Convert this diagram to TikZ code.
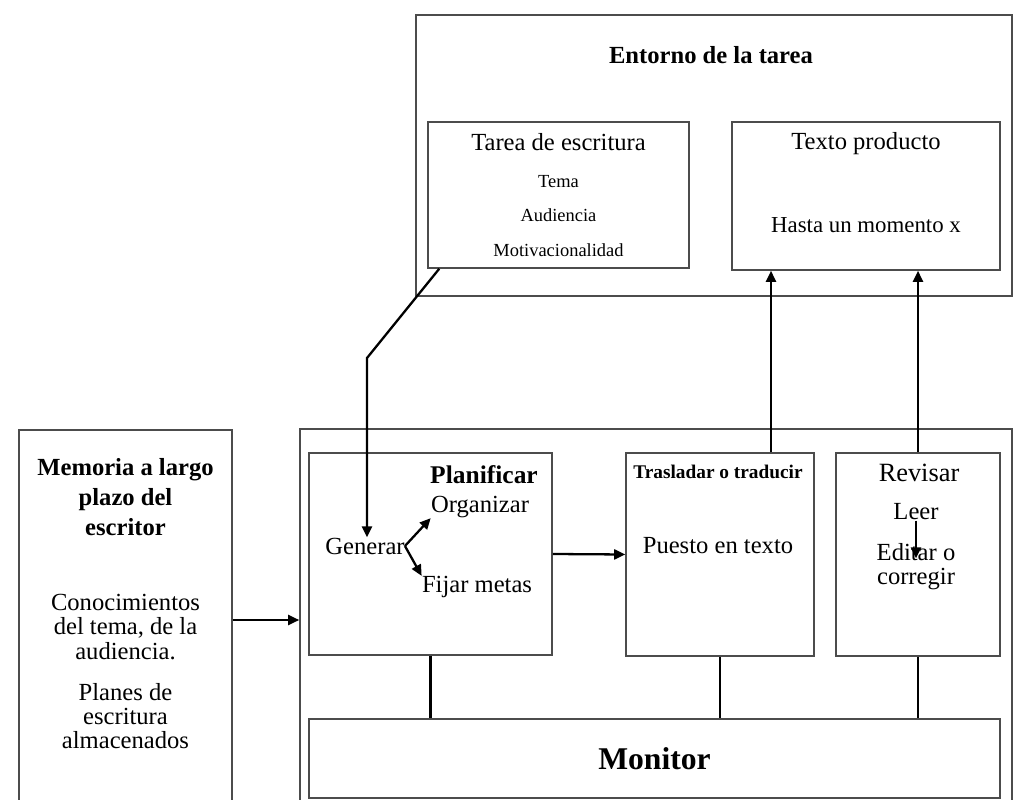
\documentclass[tikz,border=0pt]{standalone}
\usepackage{fontspec}
\setmainfont{Liberation Serif}
\usetikzlibrary{arrows.meta,positioning,calc}

\begin{document}
\begin{tikzpicture}[
  % Box styles
  caja/.style={
    rectangle,
    draw=black!70,
    line width=0.9pt,
    inner sep=0pt
  },
  etiqueta/.style={inner sep=0pt, align=center, font=\fontsize{14}{17}\selectfont},
  titulo/.style={etiqueta, font=\fontsize{14}{17}\selectfont\bfseries},
  menor/.style={etiqueta, font=\fontsize{10.5}{12}\selectfont},
  apretado/.style={etiqueta, font=\fontsize{14}{13.7}\selectfont},
  % Arrow styles
  arrow/.style={
    -{Triangle[length=2.2mm,width=2mm]},
    line width=1.3pt,
    draw=black
  },
  enlace/.style={line width=1.3pt, draw=black}
]

\useasboundingbox (0,0) rectangle (20.26,-16);
\clip (0,0) rectangle (20.26,-16);

% === ENTORNO DE LA TAREA ===
\node[caja, minimum width=11.92cm, minimum height=5.62cm] (entorno) at (14.28,-3.11) {};
\node[titulo] (entornotit) at (14.22,-1.10) {Entorno de la tarea};

\node[caja, minimum width=5.22cm, minimum height=2.92cm] (tarea) at (11.17,-3.90) {};
\node[etiqueta] (tareatit) at (11.17,-2.84) {Tarea de escritura};
\node[menor] (tema) at (11.17,-3.64) {Tema};
\node[menor] (audiencia) at (11.17,-4.30) {Audiencia};
\node[menor] (motiv) at (11.17,-5.00) {Motivacionalidad};

\node[caja, minimum width=5.36cm, minimum height=2.96cm] (producto) at (17.32,-3.92) {};
\node[etiqueta] (productotit) at (17.32,-2.88) {Texto producto};
\node[etiqueta, font=\fontsize{13}{16}\selectfont] (momento) at (17.32,-4.50) {Hasta un momento x};

% === MEMORIA ===
\node[caja, minimum width=4.26cm, minimum height=7.6cm] (memoria) at (2.51,-12.4) {};
\node[titulo] (memoriatit) at (2.51,-9.94) {Memoria a largo\\plazo del\\escritor};
\node[apretado] (conoc) at (2.51,-12.54) {Conocimientos\\del tema, de la\\audiencia.};
\node[apretado] (planes) at (2.51,-14.32) {Planes de\\escritura\\almacenados};

% === PROCESO ===
\node[caja, minimum width=14.24cm, minimum height=7.62cm] (proceso) at (13.12,-12.39) {};

\node[caja, minimum width=4.86cm, minimum height=4.04cm] (planificar) at (8.61,-11.08) {};
\node[titulo, font=\fontsize{14.5}{17}\selectfont\bfseries] (planificartit) at (9.68,-9.50) {Planificar};
\node[etiqueta] (organizar) at (9.60,-10.14) {Organizar};
\node[etiqueta] (generar) at (7.30,-10.92) {Generar};
\node[etiqueta] (fijar) at (9.54,-11.74) {Fijar metas};

\node[caja, minimum width=3.76cm, minimum height=4.06cm] (trasladar) at (14.40,-11.09) {};
\node[titulo, font=\fontsize{11}{13}\selectfont\bfseries] (trasladartit) at (14.36,-9.44) {Trasladar o traducir};
\node[etiqueta] (puesto) at (14.36,-10.92) {Puesto en texto};

\node[caja, minimum width=3.28cm, minimum height=4.06cm] (revisar) at (18.36,-11.09) {};
\node[etiqueta, font=\fontsize{15}{18}\selectfont] (revisartit) at (18.38,-9.46) {Revisar};
\node[etiqueta] (leer) at (18.32,-10.24) {Leer};
\node[apretado] (editar) at (18.32,-11.34) {Editar o\\corregir};

\node[caja, minimum width=13.82cm, minimum height=1.58cm, font=\fontsize{18}{21}\selectfont\bfseries] (monitor) at (13.09,-15.17) {Monitor};

% === ARROWS ===
\coordinate (codo) at (7.34,-7.16);
\draw[arrow] ([xshift=0.24cm]tarea.south west) -- (codo) -- (codo |- generar.north);
\draw[arrow] (generar.east) -- (organizar.south west);
\draw[arrow] (generar.east) -- (fijar.north west);
\draw[arrow] (leer.south) -- ([yshift=-0.3cm]editar.north);
\draw[arrow] (memoria.east) -- (memoria.east -| proceso.west);
\draw[arrow] (planificar.east) -- (trasladar.west);
\draw[arrow] ([xshift=1.02cm]trasladar.north) -- ([xshift=1.02cm]trasladar.north |- producto.south);
\draw[arrow] (revisar.north) -- (revisar.north |- producto.south);

% === LINKS TO MONITOR ===
\draw[enlace] (planificar.south) -- (planificar.south |- monitor.north);
\draw[enlace] (trasladar.south) -- (trasladar.south |- monitor.north);
\draw[enlace] (revisar.south) -- (revisar.south |- monitor.north);

\end{tikzpicture}
\end{document}
